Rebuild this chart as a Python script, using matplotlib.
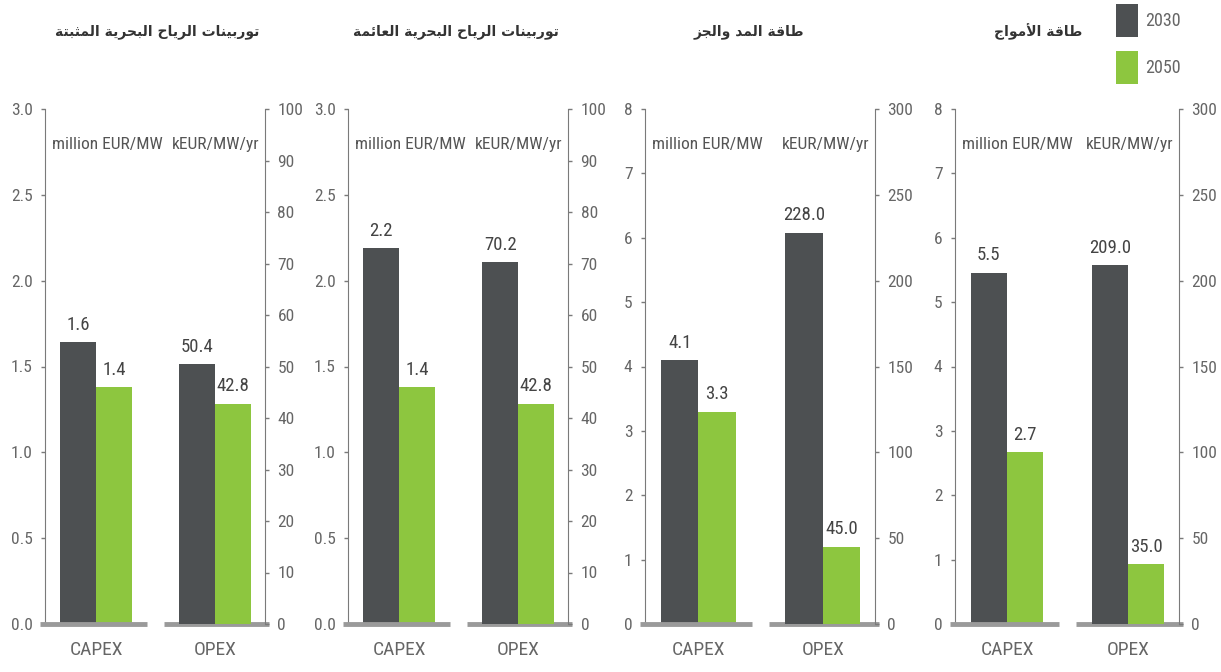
import matplotlib
matplotlib.use("Agg")
import matplotlib.pyplot as plt
from matplotlib import font_manager

# cost figures per technology (CAPEX in million EUR/MW, OPEX in kEUR/MW/yr)
titles = ["توربينات الرياح البحرية المثبتة", "توربينات الرياح البحرية العائمة",
          "طاقة المد والجز", "طاقة الأمواج"]
years = ["2030", "2050"]
capex_2030 = [1.64, 2.19, 4.1, 5.46]
capex_2050 = [1.38, 1.38, 3.3, 2.67]
opex_2030 = [50.4, 70.2, 228.0, 209.0]
opex_2050 = [42.8, 42.8, 45.0, 35.0]
categories = ["CAPEX", "OPEX"]
capex_unit = "million EUR/MW"
opex_unit = "kEUR/MW/yr"

DARK = "#4d5052"
GREEN = "#8dc63f"
BASE = "#9a9a9a"
SPINE = "#7a7a7a"
TICKC = "#666666"

# pick a condensed face when there is one
installed = {f.name for f in font_manager.fontManager.ttflist}
NARROW = "Liberation Sans"
for name in ["Liberation Sans Narrow", "Roboto Condensed", "Open Sans Condensed"]:
    if name in installed:
        NARROW = name
        break
plt.rcParams["font.family"] = [NARROW, "DejaVu Sans"]

# contextual forms for the Arabic letters used in the titles
FORMS = {
    "ا": ("\uFE8D", "\uFE8E", None, None),
    "أ": ("\uFE83", "\uFE84", None, None),
    "ب": ("\uFE8F", "\uFE90", "\uFE91", "\uFE92"),
    "ة": ("\uFE93", "\uFE94", None, None),
    "ت": ("\uFE95", "\uFE96", "\uFE97", "\uFE98"),
    "ث": ("\uFE99", "\uFE9A", "\uFE9B", "\uFE9C"),
    "ج": ("\uFE9D", "\uFE9E", "\uFE9F", "\uFEA0"),
    "ح": ("\uFEA1", "\uFEA2", "\uFEA3", "\uFEA4"),
    "د": ("\uFEA9", "\uFEAA", None, None),
    "ر": ("\uFEAD", "\uFEAE", None, None),
    "ز": ("\uFEAF", "\uFEB0", None, None),
    "ط": ("\uFEC1", "\uFEC2", "\uFEC3", "\uFEC4"),
    "ع": ("\uFEC9", "\uFECA", "\uFECB", "\uFECC"),
    "ف": ("\uFED1", "\uFED2", "\uFED3", "\uFED4"),
    "ق": ("\uFED5", "\uFED6", "\uFED7", "\uFED8"),
    "ل": ("\uFEDD", "\uFEDE", "\uFEDF", "\uFEE0"),
    "م": ("\uFEE1", "\uFEE2", "\uFEE3", "\uFEE4"),
    "ن": ("\uFEE5", "\uFEE6", "\uFEE7", "\uFEE8"),
    "و": ("\uFEED", "\uFEEE", None, None),
    "ي": ("\uFEF1", "\uFEF2", "\uFEF3", "\uFEF4"),
    "ئ": ("\uFE89", "\uFE8A", "\uFE8B", "\uFE8C"),
}
LAM_ALEF = {"ا": ("\uFEFB", "\uFEFC", None, None),
            "أ": ("\uFEF7", "\uFEF8", None, None)}


def shape_ar(text):
    tokens = []
    i = 0
    while i < len(text):
        c = text[i]
        if c == "ل" and i + 1 < len(text) and text[i + 1] in LAM_ALEF:
            tokens.append(LAM_ALEF[text[i + 1]])
            i += 2
            continue
        tokens.append(FORMS.get(c, c))
        i += 1
    out = []
    for k, tok in enumerate(tokens):
        if isinstance(tok, str):
            out.append(tok)
            continue
        prev = tokens[k - 1] if k > 0 else None
        nxt = tokens[k + 1] if k + 1 < len(tokens) else None
        join_prev = isinstance(prev, tuple) and prev[2] is not None
        join_next = tok[2] is not None and isinstance(nxt, tuple)
        if join_prev and join_next:
            out.append(tok[3])
        elif join_prev:
            out.append(tok[1])
        elif join_next:
            out.append(tok[2])
        else:
            out.append(tok[0])
    return "".join(reversed(out))


W, H = 1221, 672
fig = plt.figure(figsize=(W / 100, H / 100), dpi=100)

panel_left = [45, 348, 645, 955]
panel_right = [265, 568, 875, 1179]
title_x = [157, 456, 749, 1038]
y_base, y_top = 624, 109

capex_lim = [3.0, 3.0, 8, 8]
capex_step = [0.5, 0.5, 1, 1]
opex_lim = [100, 100, 300, 300]
opex_step = [10, 10, 50, 50]

bw = 0.3
for p in range(4):
    ax = fig.add_axes([panel_left[p] / W, (H - y_base) / H,
                       (panel_right[p] - panel_left[p]) / W, (y_base - y_top) / H])
    ax2 = ax.twinx()
    ax.set_xlim(-0.43, 1.42)

    b1 = ax.bar(0 - bw / 2, capex_2030[p], bw, color=DARK, label=years[0])
    b2 = ax.bar(0 + bw / 2, capex_2050[p], bw, color=GREEN, label=years[1])
    ax2.bar(1 - bw / 2, opex_2030[p], bw, color=DARK)
    ax2.bar(1 + bw / 2, opex_2050[p], bw, color=GREEN)

    for x, v in [(-bw / 2, capex_2030[p]), (bw / 2, capex_2050[p])]:
        ax.annotate(f"{v:.1f}", (x, v), xytext=(0, 6), textcoords="offset points",
                    ha="center", va="bottom", fontsize=13.5, color="#444444")
    for x, v in [(1 - bw / 2, opex_2030[p]), (1 + bw / 2, opex_2050[p])]:
        ax2.annotate(f"{v:.1f}", (x, v), xytext=(0, 6), textcoords="offset points",
                     ha="center", va="bottom", fontsize=13.5, color="#444444")

    # grey floor under each pair of bars
    ax.plot([-0.47, 0.43], [0, 0], color=BASE, lw=3.5, clip_on=False,
            solid_capstyle="butt", zorder=3)
    ax.plot([0.57, 1.45], [0, 0], color=BASE, lw=3.5, clip_on=False,
            solid_capstyle="butt", zorder=3)

    n = round(capex_lim[p] / capex_step[p])
    cticks = [i * capex_step[p] for i in range(n + 1)]
    ax.set_ylim(0, capex_lim[p])
    ax.set_yticks(cticks)
    if capex_step[p] < 1:
        ax.set_yticklabels([f"{t:.1f}" for t in cticks])
    else:
        ax.set_yticklabels([f"{t:.0f}" for t in cticks])
    n2 = round(opex_lim[p] / opex_step[p])
    ax2.set_ylim(0, opex_lim[p])
    ax2.set_yticks([i * opex_step[p] for i in range(n2 + 1)])

    for a in (ax, ax2):
        for s in ("top", "bottom"):
            a.spines[s].set_visible(False)
        a.tick_params(axis="y", length=3, width=1, color=SPINE, labelcolor=TICKC,
                      labelsize=12.5, pad=6)
    ax.spines["right"].set_visible(False)
    ax2.spines["left"].set_visible(False)
    ax.spines["left"].set_color(SPINE)
    ax2.spines["right"].set_color(SPINE)

    ax.set_xticks([0, 1])
    ax.set_xticklabels(categories, fontsize=14, color=TICKC)
    ax.tick_params(axis="x", length=0, pad=12)

    ax.text(0.032, 0.932, capex_unit, transform=ax.transAxes, ha="left",
            va="center", fontsize=12.5, color="#555555")
    ax.text(0.975, 0.932, opex_unit, transform=ax.transAxes, ha="right",
            va="center", fontsize=12.5, color="#555555")

    fig.text(title_x[p] / W, 1 - 32 / H, shape_ar(titles[p]), ha="center",
             va="center", fontsize=10, fontweight="bold", color="#333333",
             family=["DejaVu Sans"])

fig.legend(handles=[b1, b2], labels=years, loc="upper left",
           bbox_to_anchor=(1116 / W, 1 - 4 / H), frameon=False, fontsize=13,
           handlelength=1.2, handleheight=2.4, labelspacing=0.8,
           handletextpad=0.4, borderpad=0, borderaxespad=0,
           labelcolor=TICKC)

fig.savefig("out.png", dpi=100)
